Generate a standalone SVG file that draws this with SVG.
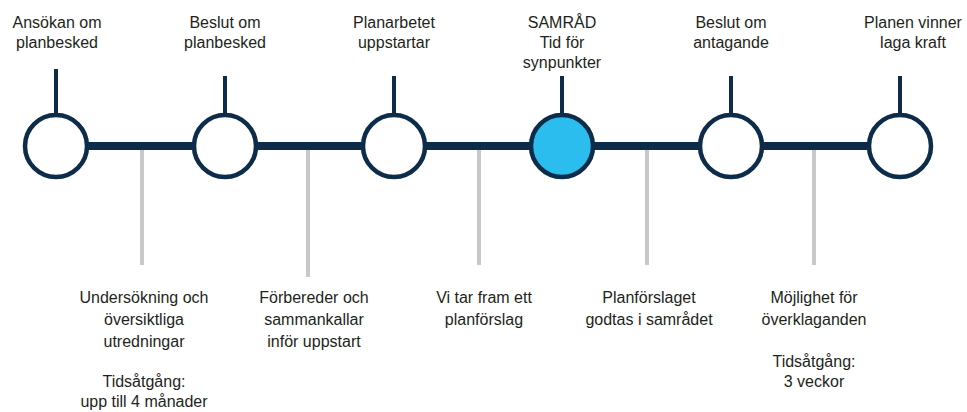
<svg xmlns="http://www.w3.org/2000/svg" width="967" height="412" viewBox="0 0 967 412">
<style>
  text { font-family: "Liberation Sans", Arial, sans-serif; font-size: 16px; fill: #231f20; text-anchor: middle; }
  .axis { stroke: #0d2c4a; stroke-width: 8; }
  .stem { stroke: #0d2c4a; stroke-width: 4; }
  .tick { stroke: #c8c8c8; stroke-width: 4; }
  .node { fill: #ffffff; stroke: #0d2c4a; stroke-width: 4.5; }
  .active { fill: #2bbdee; }
</style>
<rect width="967" height="412" fill="#ffffff"/>
<g id="connectors">
  <line class="axis" x1="56" y1="146" x2="900" y2="146"/>
  <line class="stem" x1="56" y1="69" x2="56" y2="114"/>
  <line class="stem" x1="225" y1="76" x2="225" y2="114"/>
  <line class="stem" x1="394" y1="76" x2="394" y2="114"/>
  <line class="stem" x1="562" y1="76" x2="562" y2="114"/>
  <line class="stem" x1="731" y1="76" x2="731" y2="114"/>
  <line class="stem" x1="900" y1="76" x2="900" y2="114"/>
  <line class="tick" x1="142" y1="150" x2="142" y2="265"/>
  <line class="tick" x1="308" y1="150" x2="308" y2="277"/>
  <line class="tick" x1="479" y1="150" x2="479" y2="265"/>
  <line class="tick" x1="647" y1="150" x2="647" y2="265"/>
  <line class="tick" x1="814" y1="150" x2="814" y2="265"/>
</g>
<g id="m1">
  <circle class="node" cx="56" cy="146" r="31"/>
  <text x="57" y="28">Ansökan om</text>
  <text x="57" y="48">planbesked</text>
</g>
<g id="m2">
  <circle class="node" cx="225" cy="146" r="31"/>
  <text x="225" y="28">Beslut om</text>
  <text x="225" y="48">planbesked</text>
</g>
<g id="m3">
  <circle class="node" cx="394" cy="146" r="31"/>
  <text x="394" y="28">Planarbetet</text>
  <text x="394" y="48">uppstartar</text>
</g>
<g id="m4">
  <circle class="node active" cx="562" cy="146" r="31"/>
  <text x="562" y="28">SAMRÅD</text>
  <text x="562" y="48">Tid för</text>
  <text x="562" y="68">synpunkter</text>
</g>
<g id="m5">
  <circle class="node" cx="731" cy="146" r="31"/>
  <text x="731" y="28">Beslut om</text>
  <text x="731" y="48">antagande</text>
</g>
<g id="m6">
  <circle class="node" cx="900" cy="146" r="31"/>
  <text x="913" y="28">Planen vinner</text>
  <text x="913" y="48">laga kraft</text>
</g>
<g id="p1">
  <text x="144" y="303">Undersökning och</text>
  <text x="144" y="325">översiktliga</text>
  <text x="144" y="347">utredningar</text>
  <text x="144" y="387">Tidsåtgång:</text>
  <text x="144" y="407">upp till 4 månader</text>
</g>
<g id="p2">
  <text x="314" y="303">Förbereder och</text>
  <text x="314" y="325">sammankallar</text>
  <text x="314" y="347">inför uppstart</text>
</g>
<g id="p3">
  <text x="484" y="303">Vi tar fram ett</text>
  <text x="484" y="325">planförslag</text>
</g>
<g id="p4">
  <text x="649" y="303">Planförslaget</text>
  <text x="649" y="325">godtas i samrådet</text>
</g>
<g id="p5">
  <text x="814" y="303">Möjlighet för</text>
  <text x="814" y="325">överklaganden</text>
  <text x="814" y="367">Tidsåtgång:</text>
  <text x="814" y="387">3 veckor</text>
</g>
</svg>
